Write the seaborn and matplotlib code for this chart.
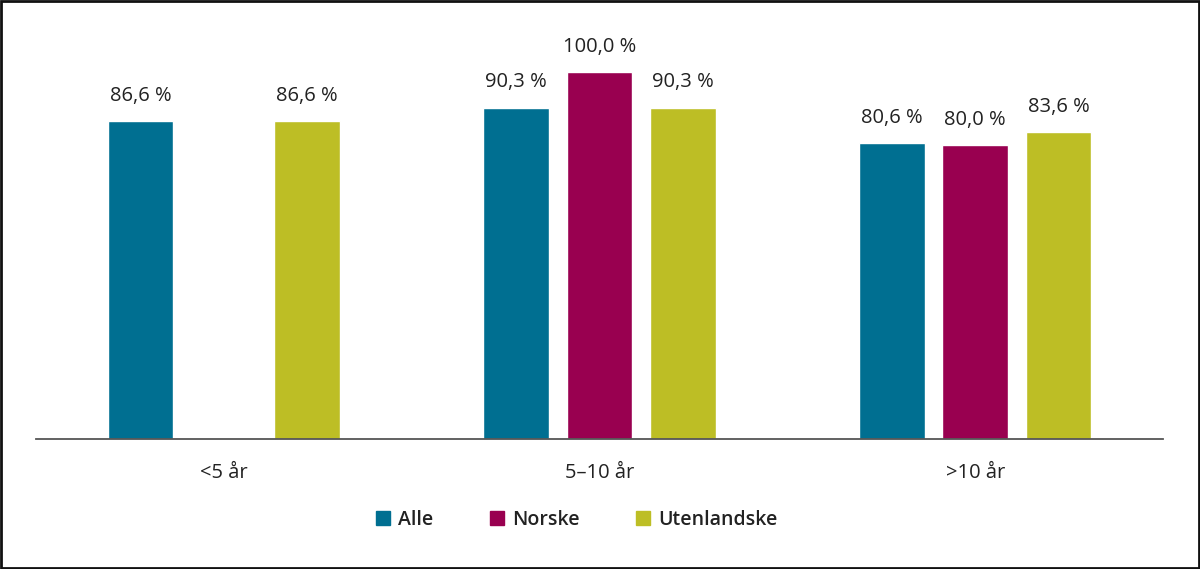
import matplotlib
matplotlib.use("Agg")
import matplotlib.pyplot as plt
import matplotlib.patches as mpatches
import seaborn as sns
import pandas as pd
import numpy as np

categories = ["<5 år", "5–10 år", ">10 år"]
series = ["Alle", "Norske", "Utenlandske"]
alle = [86.6, 90.3, 80.6]
norske = [np.nan, 100.0, 80.0]
utenlandske = [86.6, 90.3, 83.6]
colors = ["#006F91", "#990050", "#BDBE25"]

rows = []
for s, vals in zip(series, [alle, norske, utenlandske]):
    for c, v in zip(categories, vals):
        rows.append({"cat": c, "serie": s, "val": v})
df = pd.DataFrame(rows)

sns.set_theme(style="white")
plt.rcParams["font.family"] = ["Open Sans", "DejaVu Sans"]

fig = plt.figure(figsize=(12, 5.69), dpi=100)
ax = fig.add_axes([36/1200, 1 - 439/569, (1163-36)/1200, (439-20)/569])

sns.barplot(data=df, x="cat", y="val", hue="serie", order=categories,
            hue_order=series, palette=colors, width=0.665, gap=0.21,
            saturation=1, ax=ax, legend=False, errorbar=None)

ax.set_xlim(-0.5, 2.5)
ax.set_ylim(0, (439-20)/3.67)
ax.set_xlabel("")
ax.set_ylabel("")
ax.set_yticks([])
for sp in ["top", "right", "left"]:
    ax.spines[sp].set_visible(False)
ax.spines["bottom"].set_color("#555555")
ax.spines["bottom"].set_linewidth(1.3)
ax.tick_params(axis="x", length=0, pad=17, labelsize=14.5, labelcolor="#222222")

for cont in ax.containers:
    for bar in cont:
        h = bar.get_height()
        if np.isnan(h) or h == 0:
            continue
        ax.annotate(f"{h:.1f} %".replace(".", ","),
                    (bar.get_x() + bar.get_width()/2, h),
                    xytext=(0, 11), textcoords="offset points",
                    ha="center", va="bottom", fontsize=14.5, color="#222222")

handles = [mpatches.Patch(color=c, label=s) for c, s in zip(colors, series)]
leg = fig.legend(handles=handles, loc="center", bbox_to_anchor=(577/1200, 1 - 520/569),
                 ncol=3, frameon=False, fontsize=14, handlelength=0.7, handleheight=0.7,
                 handletextpad=0.45, columnspacing=2.9)
for t in leg.get_texts():
    t.set_color("#222222")
    t.set_fontweight("semibold")

fig.patches.append(mpatches.Rectangle((0.001, 0.002), 0.998, 0.996, transform=fig.transFigure,
                                      fill=False, edgecolor="#111111", linewidth=2))

fig.savefig("out.png", dpi=100)
